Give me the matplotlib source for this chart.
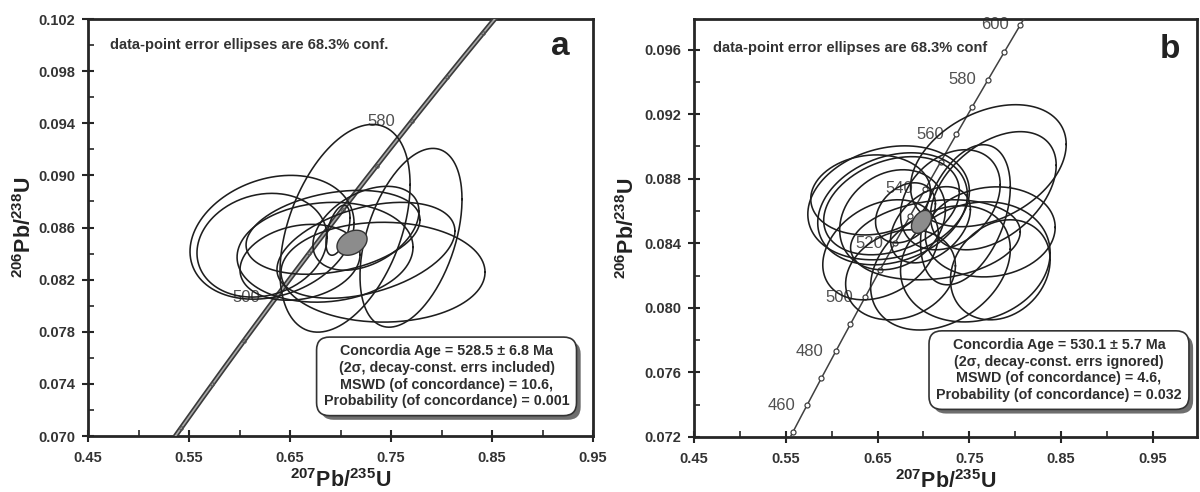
import numpy as np
import matplotlib
matplotlib.use("Agg")
import matplotlib.pyplot as plt
from matplotlib.transforms import offset_copy
import matplotlib.patheffects as pe

plt.rcParams['font.family'] = ['Liberation Sans', 'DejaVu Sans']
plt.rcParams['font.weight'] = 'bold'
plt.rcParams['mathtext.fontset'] = 'custom'
plt.rcParams['mathtext.rm'] = 'Liberation Sans'
plt.rcParams['mathtext.bf'] = 'Liberation Sans:bold'

# decay constants (per Ma)
LAMBDA_238 = 1.55125e-4
LAMBDA_235 = 9.8485e-4

# ---------------- panel a data ----------------
xlim_a = (0.45, 0.95)
ylim_a = (0.070, 0.102)
xticks_a = [0.45, 0.55, 0.65, 0.75, 0.85, 0.95]
xticklabels_a = ['0.45', '0.55', '0.65', '0.75', '0.85', '0.95']
yticks_a = [0.070, 0.074, 0.078, 0.082, 0.086, 0.090, 0.094, 0.098, 0.102]
yticklabels_a = ['0.070', '0.074', '0.078', '0.082', '0.086', '0.090', '0.094', '0.098', '0.102']

ell_a_x = [0.6322, 0.6223, 0.6847, 0.6926, 0.7421, 0.7252, 0.7698, 0.7045, 0.7252, 0.6975, 0.6599]
ell_a_sx = [0.0812, 0.0644, 0.0871, 0.0861, 0.1010, 0.0881, 0.0505, 0.0644, 0.0525, 0.0119, 0.0594]
ell_a_y = [0.08525, 0.08464, 0.08410, 0.08563, 0.08257, 0.08425, 0.08521, 0.08594, 0.08594, 0.08579, 0.08333]
ell_a_sy = [0.00475, 0.00398, 0.00383, 0.00322, 0.00383, 0.00368, 0.00686, 0.00797, 0.00322, 0.00192, 0.00291]
ell_a_rho = [0.23, 0.15, 0.10, 0.30, 0.0, 0.40, 0.43, 0.42, 0.40, 0.50, 0.20]
conc_a = (0.7114, 0.0149, 0.08483, 0.00096, 0.3)

ages_a_curve = [400, 650]
ages_a_markers = [440, 460, 480, 500, 520, 540, 560, 580, 600, 620]
ages_a_labels = [500, 580]
text_a = ["Concordia Age = 528.5 \u00b1 6.8 Ma",
          "(2\u03c3, decay-const. errs included)",
          "MSWD (of concordance) = 10.6,",
          "Probability (of concordance) = 0.001"]
note_a = "data-point error ellipses are 68.3% conf."

# ---------------- panel b data ----------------
xlim_b = (0.45, 0.998)
ylim_b = (0.072, 0.0979)
xticks_b = [0.45, 0.55, 0.65, 0.75, 0.85, 0.95]
xticklabels_b = ['0.45', '0.55', '0.65', '0.75', '0.85', '0.95']
yticks_b = [0.072, 0.076, 0.080, 0.084, 0.088, 0.092, 0.096]
yticklabels_b = ['0.072', '0.076', '0.080', '0.084', '0.088', '0.092', '0.096']

ell_b_x = [0.7707, 0.7761, 0.6620, 0.6663, 0.6652, 0.6663, 0.6804, 0.7076, 0.6533, 0.7185,
           0.7565, 0.7728, 0.7130, 0.7457, 0.6750, 0.7837, 0.6424, 0.7293]
ell_b_sx = [0.0848, 0.0685, 0.0880, 0.0815, 0.0739, 0.0576, 0.0326, 0.0435, 0.0630, 0.0761,
            0.0815, 0.0707, 0.0924, 0.0489, 0.0598, 0.0543, 0.0652, 0.0543]
ell_b_y = [0.08881, 0.08726, 0.08651, 0.08614, 0.08633, 0.08546, 0.08589, 0.08515, 0.08360, 0.08248,
           0.08285, 0.08471, 0.08422, 0.08577, 0.08205, 0.08236, 0.08700, 0.08670]
ell_b_sy = [0.00378, 0.00366, 0.00353, 0.00347, 0.00304, 0.00310, 0.00186, 0.00236, 0.00310, 0.00385,
            0.00372, 0.00279, 0.00248, 0.00434, 0.00279, 0.00310, 0.00248, 0.00310]
ell_b_rho = [0.35, 0.43, 0.20, 0.25, 0.30, 0.20, 0.30, 0.40, 0.30, 0.30,
             0.15, 0.10, 0.20, 0.40, 0.20, 0.20, 0.10, 0.30]
conc_b = (0.6978, 0.0109, 0.08533, 0.00071, 0.4)

ages_b_curve = [400, 650]
ages_b_markers = [450, 460, 470, 480, 490, 500, 510, 520, 530, 540, 550, 560, 570, 580, 590, 600, 610]
ages_b_labels = [460, 480, 500, 520, 540, 560, 580, 600]
text_b = ["Concordia Age = 530.1 \u00b1 5.7 Ma",
          "(2\u03c3, decay-const. errs ignored)",
          "MSWD (of concordance) = 4.6,",
          "Probability (of concordance) = 0.032"]
note_b = "data-point error ellipses are 68.3% conf"

XLABEL = r'$^{\mathbf{207}}$Pb/$^{\mathbf{235}}$U'
YLABEL = r'$^{\mathbf{206}}$Pb/$^{\mathbf{238}}$U'

INK = '#262626'


def concordia(ages):
    t = np.asarray(ages, dtype=float)
    return np.exp(LAMBDA_235 * t) - 1, np.exp(LAMBDA_238 * t) - 1


def ellipse_pts(cx, sx, cy, sy, rho):
    t = np.linspace(0, 2 * np.pi, 240)
    x = cx + sx * np.cos(t)
    y = cy + sy * (rho * np.cos(t) + np.sqrt(1 - rho ** 2) * np.sin(t))
    return x, y


def style_axes(ax, xlim, ylim, xt, xtl, yt, ytl, ymin_step):
    ax.set_xlim(*xlim)
    ax.set_ylim(*ylim)
    ax.set_xticks(xt)
    ax.set_xticklabels(xtl)
    ax.set_yticks(yt)
    ax.set_yticklabels(ytl)
    ax.set_xticks(np.arange(xt[0] + 0.05, xlim[1], 0.1), minor=True)
    ax.set_yticks(np.arange(yt[0] + ymin_step, ylim[1], 2 * ymin_step), minor=True)
    for s in ax.spines.values():
        s.set_linewidth(2.0)
        s.set_color(INK)
    ax.tick_params(which='major', direction='inout', length=8, width=1.5,
                   colors=INK, labelsize=10.5, labelcolor='#333333')
    ax.tick_params(axis='x', which='major', pad=7)
    ax.tick_params(axis='y', which='major', pad=5)
    ax.tick_params(which='minor', direction='in', length=4, width=1.2, colors=INK)


def draw_panel(ax, ell, conc):
    ex, esx, ey, esy, er = ell
    for cx, sx, cy, sy, r in zip(ex, esx, ey, esy, er):
        x, y = ellipse_pts(cx, sx, cy, sy, r)
        ax.plot(x, y, color='#1e1e1e', lw=1.15, zorder=4)
    x, y = ellipse_pts(*conc)
    ax.fill(x, y, facecolor='#8c8c8c', edgecolor='#333333', lw=1.0, zorder=6)


def draw_concordia(ax, fig, curve_ages, marker_ages, label_ages, band, dx):
    ages = np.linspace(curve_ages[0], curve_ages[1], 400)
    cx, cy = concordia(ages)
    if band:
        ax.plot(cx, cy, color='#3a3a3a', lw=3.6, zorder=3, solid_capstyle='butt')
        ax.plot(cx, cy, color='#a8a8a8', lw=1.2, zorder=3)
        mx, my = concordia(marker_ages)
        ax.plot(mx, my, 'o', ms=2.5, mfc='none', mec='#555555', mew=0.8, zorder=3)
    else:
        ax.plot(cx, cy, color='#404040', lw=1.1, zorder=3)
        mx, my = concordia(marker_ages)
        ax.plot(mx, my, 'o', ms=3.6, mfc='white', mec='#404040', mew=0.9, zorder=3)
    lx, ly = concordia(label_ages)
    tr = offset_copy(ax.transData, fig=fig, x=dx, y=0, units='dots')
    for a, x, y in zip(label_ages, lx, ly):
        ax.text(x, y, str(a), transform=tr, ha='right', va='center',
                fontsize=12, fontweight='normal', color='#505050', zorder=2)


def info_box(ax, lines, xc, yc):
    s = "\n".join(lines)
    t = ax.text(xc, yc, s, transform=ax.transAxes, color='#2e2e2e', zorder=8,
                ha='center', va='center', fontsize=10.3, fontweight='bold', linespacing=1.25,
                bbox=dict(boxstyle='round,pad=0.5,rounding_size=0.9', fc='white',
                          ec='#333333', lw=1.2))
    t.get_bbox_patch().set_path_effects([
        pe.SimplePatchShadow(offset=(3, -3), shadow_rgbFace='#6e6e6e', alpha=1.0),
        pe.Normal()])


fig = plt.figure(figsize=(12, 4.92), dpi=100)
ax_a = fig.add_axes([88 / 1200, 56 / 492, 505 / 1200, 417 / 492])
ax_b = fig.add_axes([694 / 1200, 55 / 492, 503 / 1200, 418 / 492])

# panel a
style_axes(ax_a, xlim_a, ylim_a, xticks_a, xticklabels_a, yticks_a, yticklabels_a, 0.002)
draw_concordia(ax_a, fig, ages_a_curve, ages_a_markers, ages_a_labels, True, -16)
draw_panel(ax_a, (ell_a_x, ell_a_sx, ell_a_y, ell_a_sy, ell_a_rho), conc_a)
ax_a.text(0.044, 0.938, note_a, transform=ax_a.transAxes, fontsize=10.5, fontweight='bold',
          color='#333333', ha='left', va='center')
ax_a.text(0.935, 0.935, 'a', transform=ax_a.transAxes, fontsize=24, fontweight='bold',
          color='#222222', ha='center', va='center')
info_box(ax_a, text_a, 0.71, 0.143)

# panel b
style_axes(ax_b, xlim_b, ylim_b, xticks_b, xticklabels_b, yticks_b, yticklabels_b, 0.002)
draw_concordia(ax_b, fig, ages_b_curve, ages_b_markers, ages_b_labels, False, -12)
draw_panel(ax_b, (ell_b_x, ell_b_sx, ell_b_y, ell_b_sy, ell_b_rho), conc_b)
ax_b.text(0.038, 0.931, note_b, transform=ax_b.transAxes, fontsize=10.5, fontweight='bold',
          color='#333333', ha='left', va='center')
ax_b.text(0.946, 0.926, 'b', transform=ax_b.transAxes, fontsize=24, fontweight='bold',
          color='#222222', ha='center', va='center')
info_box(ax_b, text_b, 0.7256, 0.160)

for ax, ylx in ((ax_a, -0.125), (ax_b, -0.133)):
    ax.set_xlabel(XLABEL, fontsize=15.5, fontweight='bold', color='#222222')
    ax.set_ylabel(YLABEL, fontsize=15.5, fontweight='bold', color='#222222')
    ax.xaxis.label.set_va('center')
    ax.yaxis.label.set_va('center')
    ax.xaxis.set_label_coords(0.5, -0.107)
    ax.yaxis.set_label_coords(ylx, 0.5)

fig.savefig('out.png', dpi=100, facecolor='white')
